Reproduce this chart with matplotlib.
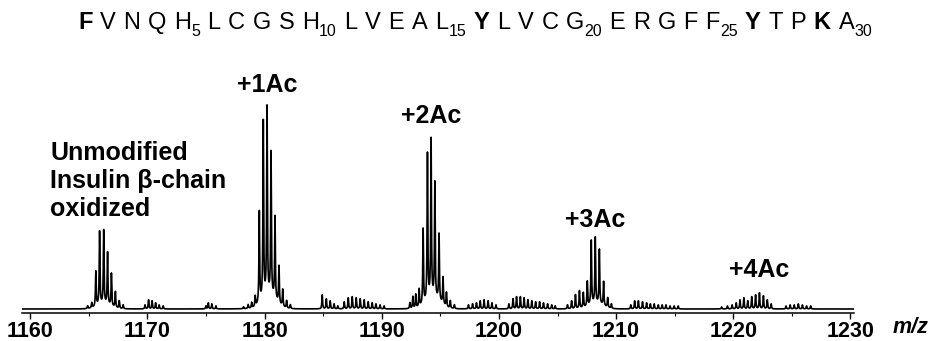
import numpy as np
import matplotlib.pyplot as plt
from matplotlib import font_manager

# peak list: m/z and apex height (arbitrary units)
peak_mz = [
    1164.9, 1165.25, 1165.6, 1165.92, 1166.27, 1166.6, 1166.93, 1167.27, 1167.6, 1167.93,
    1169.8, 1170.1, 1170.4, 1170.7, 1171.0, 1171.35,
    1175.0, 1175.2, 1175.5, 1175.85,
    1178.2, 1178.6, 1178.9, 1179.2,
    1179.55, 1179.89, 1180.21, 1180.55, 1180.89, 1181.23, 1181.55, 1181.88, 1182.2,
    1184.92, 1185.27, 1185.6, 1185.93, 1186.25,
    1186.8, 1187.14, 1187.48, 1187.82, 1188.16, 1188.5, 1188.84, 1189.18, 1189.5, 1189.85, 1190.2,
    1192.4, 1192.65, 1192.9, 1193.19,
    1193.53, 1193.9, 1194.21, 1194.53, 1194.89, 1195.23, 1195.52, 1195.85, 1196.2,
    1197.4, 1197.75, 1198.08, 1198.4, 1198.73, 1199.07, 1199.4, 1199.75,
    1200.85, 1201.2, 1201.5, 1201.83, 1202.15, 1202.47, 1202.8, 1203.13, 1203.47, 1203.8,
    1204.15, 1204.5, 1204.8,
    1205.85, 1206.2, 1206.53, 1206.87, 1207.2,
    1207.54, 1207.88, 1208.22, 1208.57, 1208.93, 1209.28, 1209.6,
    1211.25, 1211.58, 1211.9, 1212.25, 1212.6, 1212.92, 1213.25, 1213.6, 1213.93, 1214.25,
    1214.6, 1214.95, 1215.3,
    1219.0, 1219.5, 1219.9,
    1220.25, 1220.57, 1220.9, 1221.23, 1221.57, 1221.9, 1222.23, 1222.57, 1222.9, 1223.23,
    1224.5, 1224.85, 1225.2, 1225.55, 1225.9, 1226.25, 1226.6,
]
peak_h = [
    3, 6, 37, 77, 78, 56, 35, 17, 8, 4,
    4, 9, 8, 6, 4, 3,
    3, 6, 5, 3,
    2, 4, 6, 12,
    96, 186, 200, 155, 91, 42, 19, 8, 4,
    14, 10, 8, 5, 3,
    7, 11, 12, 11, 10, 9, 7, 6, 5, 4, 3,
    6, 12, 14, 19,
    79, 154, 168, 125, 74, 31, 16, 8, 4,
    4, 5, 6, 8, 9, 8, 6, 4,
    5, 10, 12, 12, 11, 9, 8, 7, 7, 6,
    5, 4, 3,
    4, 8, 14, 18, 16,
    27, 68, 71, 59, 27, 11, 5,
    4, 8, 8, 7, 6, 5, 5, 4, 4, 4,
    3, 3, 3,
    2, 3, 4,
    6, 9, 11, 8, 12, 14, 16, 13, 9, 5,
    3, 4, 4, 5, 4, 3, 3,
]
# unresolved background under the big isotope clusters
hump_mz = [1166.3, 1180.4, 1194.4, 1208.3]
hump_h = [4, 12, 10, 5]

# sequence shown above the spectrum
seq_letters = ['F', 'V', 'N', 'Q', 'H', 'L', 'C', 'G', 'S', 'H',
               'L', 'V', 'E', 'A', 'L', 'Y', 'L', 'V', 'C', 'G',
               'E', 'R', 'G', 'F', 'F', 'Y', 'T', 'P', 'K', 'A']
seq_subs = {4: '5', 9: '10', 14: '15', 19: '20', 24: '25', 29: '30'}
seq_bold = {0, 15, 25, 28}

labels = ['+1Ac', '+2Ac', '+3Ac', '+4Ac']
label_mz = [1180.2, 1194.2, 1208.2, 1222.2]
label_y = [217, 186, 82, 32]

names = {f.name for f in font_manager.fontManager.ttflist}
seq_font = 'Liberation Sans Narrow' if 'Liberation Sans Narrow' in names else 'Liberation Sans'
plt.rcParams['font.family'] = ['Liberation Sans', 'DejaVu Sans']

W, H = 933, 341
fig = plt.figure(figsize=(W / 100, H / 100), dpi=100)
ax = fig.add_axes([22 / W, 1 - 313 / H, 832 / W, 253 / H])

# build the profile from the peak list (Lorentzian line shape + background humps)
mz = np.linspace(1159.3, 1230.3, 18000)
hw = 0.035


def hump(x):
    out = np.zeros_like(np.asarray(x, dtype=float))
    for c, h in zip(hump_mz, hump_h):
        out += h * np.exp(-0.5 * ((x - c) / 0.6)**2)
    return out


signal = hump(mz)
for c, h in zip(peak_mz, peak_h):
    h_eff = max(h - hump(np.array([c]))[0], 1)
    signal += h_eff * hw**2 / ((mz - c)**2 + hw**2)

ax.plot(mz, signal, color='black', lw=1.2)
ax.set_xlim(1159.3, 1230.3)
ax.set_ylim(-4, 249)

for s in ['top', 'left', 'right']:
    ax.spines[s].set_visible(False)
ax.spines['bottom'].set_linewidth(1.1)
ax.set_yticks([])
ax.set_xticks(np.arange(1160, 1231, 10))
ax.set_xticks(np.arange(1165, 1230, 10), minor=True)
ax.tick_params(axis='x', which='major', length=4, width=1, pad=1.5, labelsize=15.5)
ax.tick_params(axis='x', which='minor', length=2.5, width=0.8)
for t in ax.get_xticklabels():
    t.set_fontweight('bold')

for lab, x, y in zip(labels, label_mz, label_y):
    ax.text(x, y, lab, ha='center', va='baseline', fontsize=18, fontweight='bold')

ax.text(1161.7, 168, 'Unmodified\nInsulin \u03b2-chain\noxidized', ha='left', va='top',
        fontsize=18, fontweight='bold', linespacing=1.22)

fig.text(893 / W, 1 - 333 / H, 'm/z', ha='left', va='baseline', fontsize=15.5,
         fontweight='bold', fontstyle='italic')

# sequence laid out letter by letter
renderer = fig.canvas.get_renderer()
base = 1 - 29 / H
sub_base = 1 - 36 / H
items = []
total = 0
for i, ch in enumerate(seq_letters):
    t = fig.text(0, base, ch, fontsize=17, family=seq_font, va='baseline',
                 fontweight='bold' if i in seq_bold else 'normal')
    w = t.get_window_extent(renderer).width
    s, ws = None, 0
    if i in seq_subs:
        s = fig.text(0, sub_base, seq_subs[i], fontsize=11.5, family=seq_font, va='baseline')
        ws = s.get_window_extent(renderer).width
    items.append((t, w, s, ws))
    total += w + ws
gap = (872 - 78 - total) / (len(seq_letters) - 1)
x = 78
for t, w, s, ws in items:
    t.set_x(x / W)
    x += w
    if s is not None:
        s.set_x(x / W)
        x += ws
    x += gap

fig.savefig('out.png', dpi=100)
